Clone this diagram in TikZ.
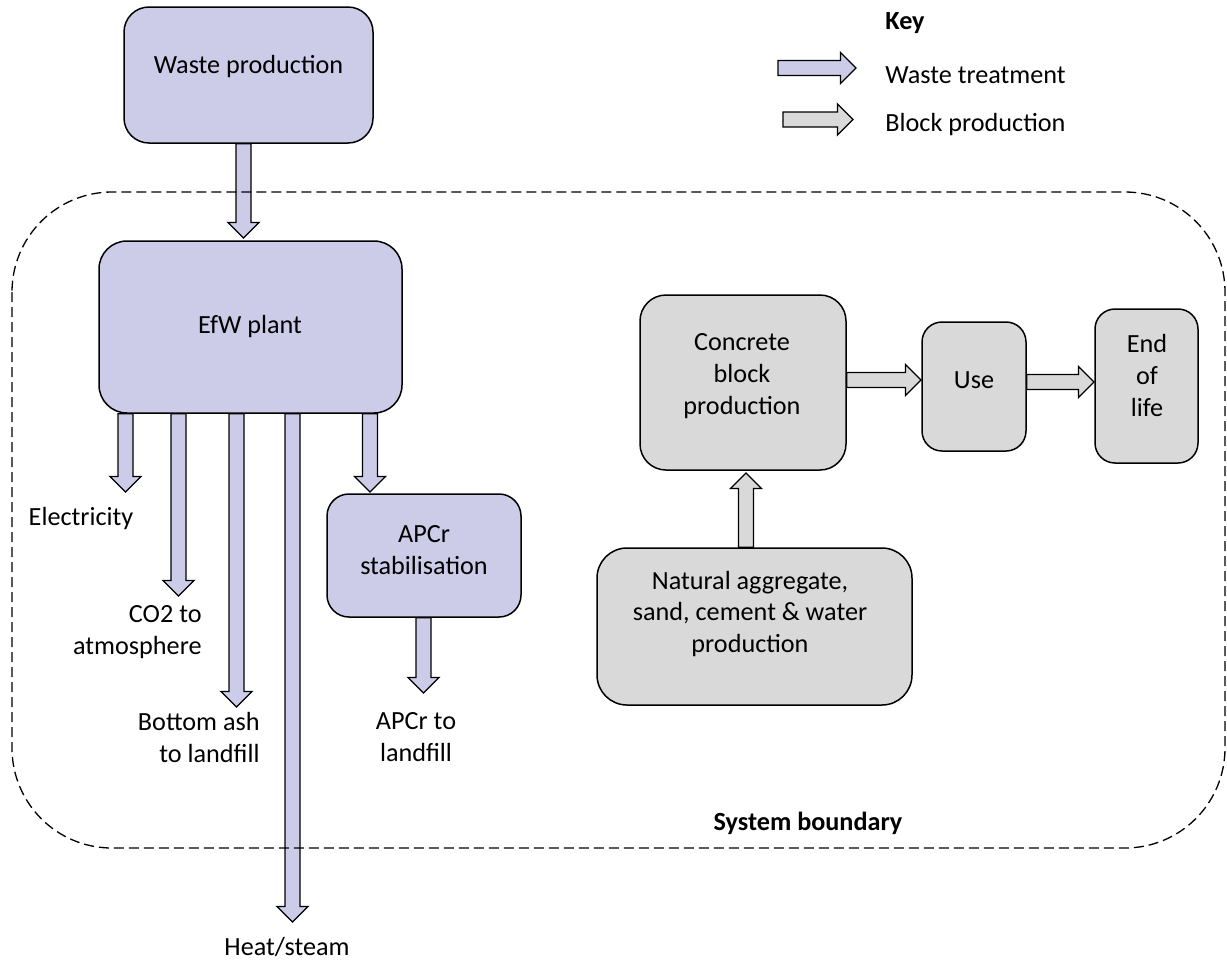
\documentclass[tikz,border=0pt]{standalone}
\usepackage{fontspec}
\setmainfont{Carlito}
\usetikzlibrary{calc,fit}
\definecolor{wasteFill}{RGB}{204,204,232}
\definecolor{blockFill}{RGB}{217,217,217}
\newcommand\fasw{3.75pt}
\newcommand\fahw{7.75pt}
\newcommand\fahl{7.75pt}
% block arrow from #2 to #3 with style #1
\newcommand\fatarrow[3]{%
  \coordinate (faS) at (#2);
  \coordinate (faE) at (#3);
  \coordinate (faH) at ($(faE)!\fahl!(faS)$);
  \draw[#1] ($(faS)!\fasw!90:(faE)$) -- ($(faH)!\fasw!90:(faE)$) -- ($(faH)!\fahw!90:(faE)$) -- (faE)
    -- ($(faH)!\fahw!-90:(faE)$) -- ($(faH)!\fasw!-90:(faE)$) -- ($(faS)!\fasw!-90:(faE)$) -- cycle;
}
\begin{document}
\begin{tikzpicture}[x=0.5pt,y=-0.5pt,
  font=\fontsize{13.1}{16}\selectfont,
  box/.style={draw=black, line width=0.75pt, inner sep=0pt},
  wbox/.style={box, fill=wasteFill},
  bbox/.style={box, fill=blockFill},
  txt/.style={inner sep=0pt, align=center, text=black},
  warrow/.style={draw=black, line width=0.65pt, fill=wasteFill, line join=miter},
  barrow/.style={draw=black, line width=0.65pt, fill=blockFill, line join=miter},
  boundary/.style={draw=black, line width=0.65pt, dash pattern=on 5pt off 2.5pt, rounded corners=50pt}]
\fill[white] (0,0) rectangle (1227,966);
\useasboundingbox (0,0) rectangle (1227,966);

% boxes
\node[wbox, rounded corners=12.5pt, fit={(124,7) (373,143)}] (waste) {};
\node[wbox, rounded corners=14pt, fit={(99,241) (402,413)}] (efw) {};
\node[wbox, rounded corners=11pt, fit={(327,494) (521,617)}] (apcr) {};
\node[bbox, rounded corners=13pt, fit={(640,295) (846,470)}] (conc) {};
\node[bbox, rounded corners=10pt, fit={(922,322) (1026,451)}] (use) {};
\node[bbox, rounded corners=10pt, fit={(1095,309) (1198,463)}] (eol) {};
\node[bbox, rounded corners=15pt, fit={(597,548) (912,705)}] (nat) {};

% box texts
\node[txt] (wasteT) at (248.5,67) {Waste production};
\node[txt] (efwT) at (250,327) {EfW plant};
\node[txt] (apcrT) at (424,550) {APCr\\stabilisation};
\node[txt] (concT) at (742,376) {Concrete\\block\\production};
\node[txt] (useT) at (974,380) {Use};
\node[txt] (eolT) at (1147,375) {End\\of\\life};
\node[txt] (natT) at (750,614) {Natural aggregate,\\sand, cement \& water\\production};

% output labels
\node[txt] (elecL) at (81,519) {Electricity};
\node[txt, align=right, anchor=east] (co2L) at (202,632.5) {CO2 to\\atmosphere};
\node[txt, align=right, anchor=east] (ashL) at (260,737.5) {Bottom ash\\to landfill};
\node[txt] (apcrL) at (416,737.5) {APCr to\\landfill};
\node[txt] (heatL) at (287,947) {Heat/steam};

% key
\node[txt, anchor=west, font=\fontsize{13.1}{16}\selectfont\bfseries] (keyT) at (885,23) {Key};
\node[txt, anchor=west] (keyW) at (885,75) {Waste treatment};
\node[txt, anchor=west] (keyB) at (885,125) {Block production};
\coordinate (kwS) at (778,68);
\coordinate (kwE) at (856,68);
\coordinate (kbS) at (783,119.5);
\coordinate (kbE) at (853,119.5);

% arrow end points
\coordinate (w2e) at (243.5,238);
\coordinate (tElec) at (125.5,492);
\coordinate (tCo2) at (178.5,596);
\coordinate (tAsh) at (236.5,707);
\coordinate (tHeat) at (292.5,922);
\coordinate (tApcr) at (370,492);
\coordinate (tApLf) at (423.5,693);
\coordinate (tCU) at (921,380);
\coordinate (tUE) at (1094,382);
\coordinate (tNC) at (746,473);

% waste treatment arrows
\fatarrow{warrow}{waste.south -| w2e}{w2e}
\fatarrow{warrow}{efw.south -| tElec}{tElec}
\fatarrow{warrow}{efw.south -| tCo2}{tCo2}
\fatarrow{warrow}{efw.south -| tAsh}{tAsh}
\fatarrow{warrow}{efw.south -| tHeat}{tHeat}
\fatarrow{warrow}{efw.south -| tApcr}{tApcr}
\fatarrow{warrow}{apcr.south -| tApLf}{tApLf}
\fatarrow{warrow}{kwS}{kwE}

% block production arrows
\fatarrow{barrow}{conc.east |- tCU}{tCU}
\fatarrow{barrow}{use.east |- tUE}{tUE}
\fatarrow{barrow}{nat.north -| tNC}{tNC}
\fatarrow{barrow}{kbS}{kbE}

% system boundary
\draw[boundary] (12,192) rectangle (1225,848);
\node[txt, font=\fontsize{13.1}{16}\selectfont\bfseries] (sysT) at (808,823) {System boundary};
\end{tikzpicture}
\end{document}
